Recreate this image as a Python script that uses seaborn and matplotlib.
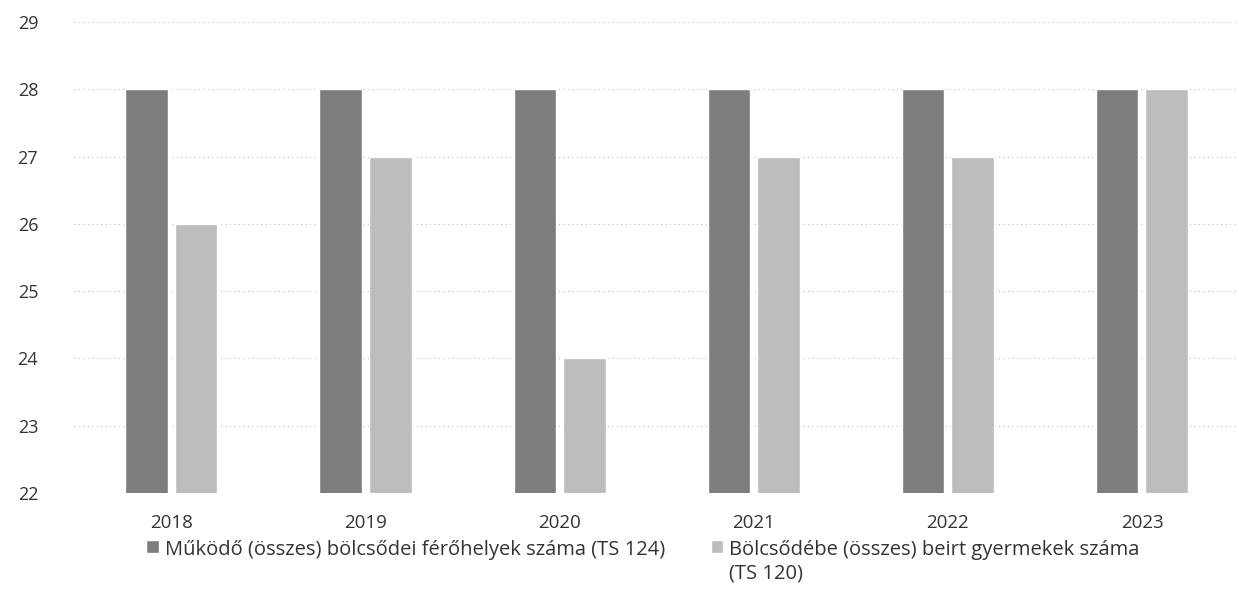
import pandas as pd
import seaborn as sns
import matplotlib.pyplot as plt

years = ["2018", "2019", "2020", "2021", "2022", "2023"]
ferohely = [28, 28, 28, 28, 28, 28]
beirt = [26, 27, 24, 27, 27, 28]
labels = ["Működő (összes) bölcsődei férőhelyek száma (TS 124)",
          "Bölcsődébe (összes) beirt gyermekek száma\n(TS 120)"]

df = pd.DataFrame({
    "Év": years * 2,
    "Érték": ferohely + beirt,
    "Sorozat": [labels[0]] * 6 + [labels[1]] * 6,
})

sns.set_style("white")
plt.rcParams["font.family"] = ["Open Sans", "DejaVu Sans"]

fig = plt.figure(figsize=(12.39, 5.98), dpi=100)
ax = fig.add_axes([0.06, 0.176, 0.94, 0.787])

sns.barplot(data=df, x="Év", y="Érték", hue="Sorozat",
            palette=["#7d7d7d", "#bdbdbd"], width=0.51, gap=0.14,
            saturation=1, ax=ax, legend=True)

ax.set_ylim(22, 29)
ax.set_yticks(range(22, 30))
ax.set_xlim(-0.5, 5.5)
ax.yaxis.grid(True, color="#bbbbbb", linestyle=(0, (1, 3)), linewidth=0.8)
ax.set_axisbelow(True)
for s in ax.spines.values():
    s.set_visible(False)
ax.set_xlabel("")
ax.set_ylabel("")
ax.tick_params(axis="y", labelsize=13, colors="#333333", pad=26, length=0)
ax.tick_params(axis="x", labelsize=13.5, colors="#333333", pad=15, length=0)

leg = ax.legend(loc="upper left", bbox_to_anchor=(0.055, -0.083), ncol=2,
                frameon=False, fontsize=14.5, handlelength=0.6, handleheight=0.6,
                handletextpad=0.3, columnspacing=2.3, labelcolor="#333333",
                borderaxespad=0)
for t in leg.get_texts():
    t.set_linespacing(1.25)
# align the handles and columns at the top of each label
leg._legend_handle_box.align = "top"
for col in leg._legend_handle_box.get_children():
    for item in col.get_children():
        item.align = "top"

fig.savefig("out.png", dpi=100)
